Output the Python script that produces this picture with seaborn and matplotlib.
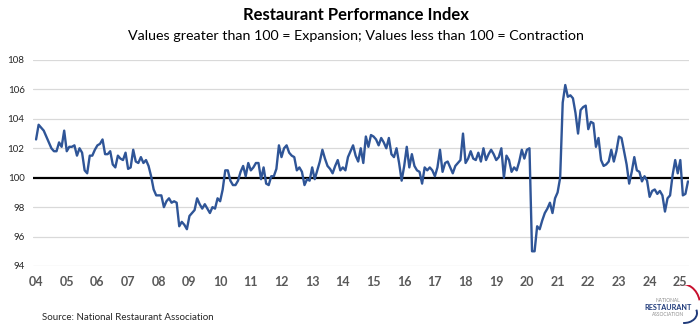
import numpy as np
import pandas as pd
import seaborn as sns
import matplotlib.pyplot as plt
from matplotlib.patches import Arc

# Monthly Restaurant Performance Index, Jan 2004 onward
rpi_2004 = [102.6, 103.6, 103.4, 103.2, 102.8, 102.4, 102.0, 101.8, 101.8, 102.4, 102.1, 103.2]
rpi_2005 = [101.8, 102.1, 102.1, 102.2, 101.5, 102.0, 101.7, 100.5, 100.3, 101.5, 101.5, 101.9]
rpi_2006 = [102.2, 102.3, 102.6, 101.6, 101.6, 101.8, 100.9, 100.7, 101.5, 101.3, 101.2, 101.7]
rpi_2007 = [100.6, 100.7, 101.9, 101.1, 101.0, 101.4, 101.0, 101.2, 100.8, 100.1, 99.2, 98.8]
rpi_2008 = [98.8, 98.8, 98.0, 98.4, 98.6, 98.3, 98.4, 98.3, 96.7, 97.0, 96.8, 96.5]
rpi_2009 = [97.4, 97.6, 97.8, 98.6, 98.2, 97.9, 98.2, 97.9, 97.6, 98.0, 97.9, 98.6]
rpi_2010 = [98.4, 99.2, 100.5, 100.5, 99.8, 99.5, 99.5, 99.8, 100.4, 100.8, 100.1, 101.0]
rpi_2011 = [100.5, 100.7, 101.0, 101.0, 99.9, 100.7, 99.6, 99.5, 100.1, 100.1, 100.6, 102.2]
rpi_2012 = [101.4, 102.0, 102.2, 101.7, 101.5, 101.4, 100.5, 100.7, 100.4, 99.5, 99.9, 99.8]
rpi_2013 = [100.7, 99.9, 100.5, 101.1, 101.9, 101.3, 100.8, 100.6, 100.3, 100.8, 101.2, 100.5]
rpi_2014 = [100.7, 100.5, 101.4, 101.8, 102.2, 101.5, 101.1, 102.0, 101.0, 102.8, 102.1, 102.9]
rpi_2015 = [102.8, 102.6, 102.2, 102.7, 102.4, 102.0, 102.7, 101.6, 101.4, 102.0, 101.0, 99.8]
rpi_2016 = [100.8, 102.1, 100.7, 101.6, 100.8, 100.5, 100.4, 99.6, 100.7, 100.5, 100.7, 100.5]
rpi_2017 = [100.1, 100.7, 101.9, 100.4, 101.0, 101.1, 100.7, 100.3, 100.8, 101.0, 101.2, 103.0]
rpi_2018 = [101.0, 101.3, 101.8, 101.3, 101.2, 101.7, 101.1, 102.0, 101.2, 101.6, 101.9, 101.6]
rpi_2019 = [101.2, 101.4, 102.0, 100.0, 101.5, 101.2, 100.4, 100.7, 100.5, 101.1, 101.9, 101.3]
rpi_2020 = [101.9, 102.0, 95.0, 95.0, 96.7, 96.5, 97.1, 97.6, 97.9, 98.3, 97.6, 98.6]
rpi_2021 = [99.0, 100.0, 105.1, 106.3, 105.5, 105.6, 105.4, 104.4, 103.0, 104.6, 104.8, 104.9]
rpi_2022 = [103.3, 103.8, 103.7, 102.1, 102.7, 101.2, 100.8, 100.9, 101.1, 101.9, 101.1, 101.8]
rpi_2023 = [102.8, 102.7, 101.8, 100.9, 99.6, 100.4, 101.4, 100.5, 100.4, 99.75, 100.1, 99.8]
rpi_2024 = [98.7, 99.1, 99.2, 98.9, 99.1, 98.8, 97.7, 98.6, 98.8, 100.2, 101.2, 100.3]
rpi_2025 = [101.2, 98.8, 98.9, 99.75]

yearly = [rpi_2004, rpi_2005, rpi_2006, rpi_2007, rpi_2008, rpi_2009, rpi_2010,
          rpi_2011, rpi_2012, rpi_2013, rpi_2014, rpi_2015, rpi_2016, rpi_2017,
          rpi_2018, rpi_2019, rpi_2020, rpi_2021, rpi_2022, rpi_2023, rpi_2024,
          rpi_2025]
year_labels = [f"{y % 100:02d}" for y in range(2004, 2026)]
y_ticks = [94, 96, 98, 100, 102, 104, 106, 108]

values = [v for year in yearly for v in year]
df = pd.DataFrame({"month": np.arange(len(values)), "rpi": values})

sns.set_theme(style="white")
plt.rcParams["font.family"] = ["Lato", "DejaVu Sans"]

fig = plt.figure(figsize=(7, 3.25), dpi=100)
ax = fig.add_axes([33 / 700, 1 - 266 / 325, 656 / 700, 206 / 325])

for yv in y_ticks:
    if yv != 100:
        ax.axhline(yv, color="#D9D9D9", lw=0.9, zorder=1)
ax.axhline(100, color="black", lw=1.6, zorder=2)

sns.lineplot(data=df, x="month", y="rpi", ax=ax, color="#2F5597", lw=1.7, zorder=3)

ax.set_xlim(-1.2, 255.4)
ax.set_ylim(94, 108)
ax.set_yticks(y_ticks)
ax.set_yticklabels([str(t) for t in y_ticks], fontsize=7, color="#262626")
ax.set_xticks(np.arange(0, 12 * len(year_labels), 12))
ax.set_xticklabels(year_labels, fontsize=9, fontweight="bold", color="#595959")
ax.tick_params(axis="y", length=0, pad=6)
ax.tick_params(axis="x", length=0, pad=7)
ax.set_xlabel("")
ax.set_ylabel("")
for side in ax.spines.values():
    side.set_visible(False)

fig.text(0.508, 1 - 15 / 325, "Restaurant Performance Index", ha="center", va="center",
         fontsize=12, fontweight="bold", color="black")
fig.text(0.508, 1 - 36 / 325,
         "Values greater than 100 = Expansion; Values less than 100 = Contraction",
         ha="center", va="center", fontsize=10.3, color="black")
fig.text(42 / 700, 1 - 318 / 325, "Source: National Restaurant Association",
         ha="left", va="center", fontsize=7, color="#262626")

# Association logo in the lower right corner
fig.text(668 / 700, 1 - 300 / 325, "NATIONAL", ha="center", va="center",
         fontsize=3.5, color="#8c8c8c")
fig.text(668 / 700, 1 - 307 / 325, "RESTAURANT", ha="center", va="center",
         fontsize=5.2, fontweight="bold", color="#1f3a7a")
fig.text(668 / 700, 1 - 314 / 325, "ASSOCIATION", ha="center", va="center",
         fontsize=3.5, color="#8c8c8c")
lax = fig.add_axes([640 / 700, 0, 60 / 700, 40 / 325])
lax.set_xlim(0, 60)
lax.set_ylim(0, 40)
lax.axis("off")
lax.add_patch(Arc((42, 20), 36, 42, theta1=15, theta2=100, color="#c8102e", lw=1.4))
lax.add_patch(Arc((44, 12), 26, 20, theta1=-95, theta2=15, color="#1f3a7a", lw=1.4))

fig.savefig("out.png", dpi=100)
